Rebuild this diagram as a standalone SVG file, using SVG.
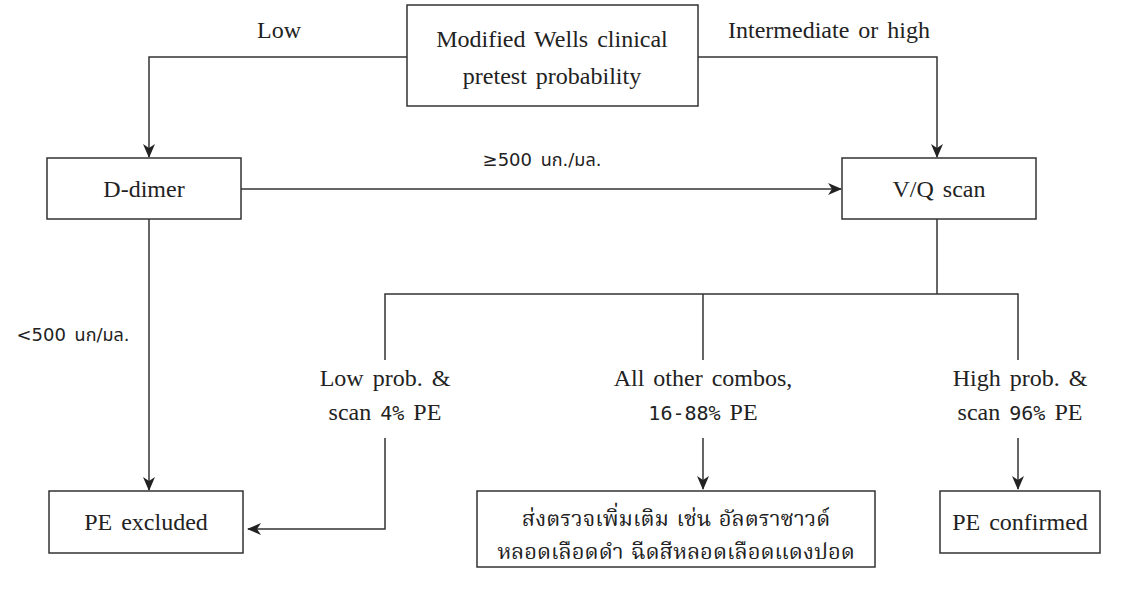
<svg xmlns="http://www.w3.org/2000/svg" width="1138" height="595" viewBox="0 0 1138 595">
<style>
.box{fill:#fff;stroke:#333;stroke-width:1.5}
.t{font-family:"Liberation Serif","Noto Serif Thai","Noto Sans Thai",serif;font-size:24px;fill:#222;text-anchor:middle;word-spacing:3px}
.th{font-size:22px;word-spacing:2px}
.s{font-family:"DejaVu Sans","Noto Sans Thai",sans-serif;font-size:18px;fill:#222;word-spacing:3px}
.m{font-family:"DejaVu Sans Mono","Liberation Mono",monospace;font-size:20px}
.c{fill:none;stroke:#333;stroke-width:1.5}
</style>
<defs>
<marker id="ah" markerWidth="14" markerHeight="12" refX="13" refY="6" orient="auto" markerUnits="userSpaceOnUse">
<path d="M0,0 L14,6 L0,12 L4,6 z" fill="#222"/>
</marker>
</defs>
<g id="connectors">
<path class="c" d="M407,57 H149 V157" marker-end="url(#ah)"/>
<path class="c" d="M698,57 H937 V157" marker-end="url(#ah)"/>
<path class="c" d="M241,189 H841" marker-end="url(#ah)"/>
<path class="c" d="M149,219 V490" marker-end="url(#ah)"/>
<path class="c" d="M937,219 V294"/>
<path class="c" d="M385,360 V294 H1018 V360"/>
<path class="c" d="M703,294 V360"/>
<path class="c" d="M385,438 V529 H248" marker-end="url(#ah)"/>
<path class="c" d="M703,438 V489" marker-end="url(#ah)"/>
<path class="c" d="M1018,438 V489" marker-end="url(#ah)"/>
</g>
<g id="labels">
<text class="t" x="279" y="38">Low</text>
<text class="t" x="829" y="38">Intermediate or high</text>
<text class="s" x="542" y="166" text-anchor="middle">≥500 นก./มล.</text>
<text class="s" x="73" y="341" text-anchor="middle">&lt;500 นก/มล.</text>
<text class="t" x="385" y="386">Low prob. &amp;</text>
<text class="t" x="385" y="420">scan <tspan class="m">4%</tspan> PE</text>
<text class="t" x="703" y="386">All other combos,</text>
<text class="t" x="703" y="420"><tspan class="m">16-88%</tspan> PE</text>
<text class="t" x="1020" y="386">High prob. &amp;</text>
<text class="t" x="1020" y="420">scan <tspan class="m">96%</tspan> PE</text>
</g>
<g id="node-wells">
<rect class="box" x="407" y="5" width="291" height="101"/>
<text class="t" x="552" y="47">Modified Wells clinical</text>
<text class="t" x="552" y="84">pretest probability</text>
</g>
<g id="node-ddimer">
<rect class="box" x="47" y="158" width="194" height="61"/>
<text class="t" x="144" y="197">D-dimer</text>
</g>
<g id="node-vq">
<rect class="box" x="842" y="158" width="194" height="61"/>
<text class="t" x="939" y="197">V/Q scan</text>
</g>
<g id="node-excluded">
<rect class="box" x="49" y="491" width="194" height="62"/>
<text class="t" x="146" y="530">PE excluded</text>
</g>
<g id="node-further">
<rect class="box" x="477" y="491" width="398" height="76"/>
<text class="t th" x="676" y="526">ส่งตรวจเพิ่มเติม เช่น อัลตราซาวด์</text>
<text class="t th" x="676" y="559">หลอดเลือดดำ ฉีดสีหลอดเลือดแดงปอด</text>
</g>
<g id="node-confirmed">
<rect class="box" x="940" y="491" width="160" height="62"/>
<text class="t" x="1020" y="530">PE confirmed</text>
</g>
</svg>
